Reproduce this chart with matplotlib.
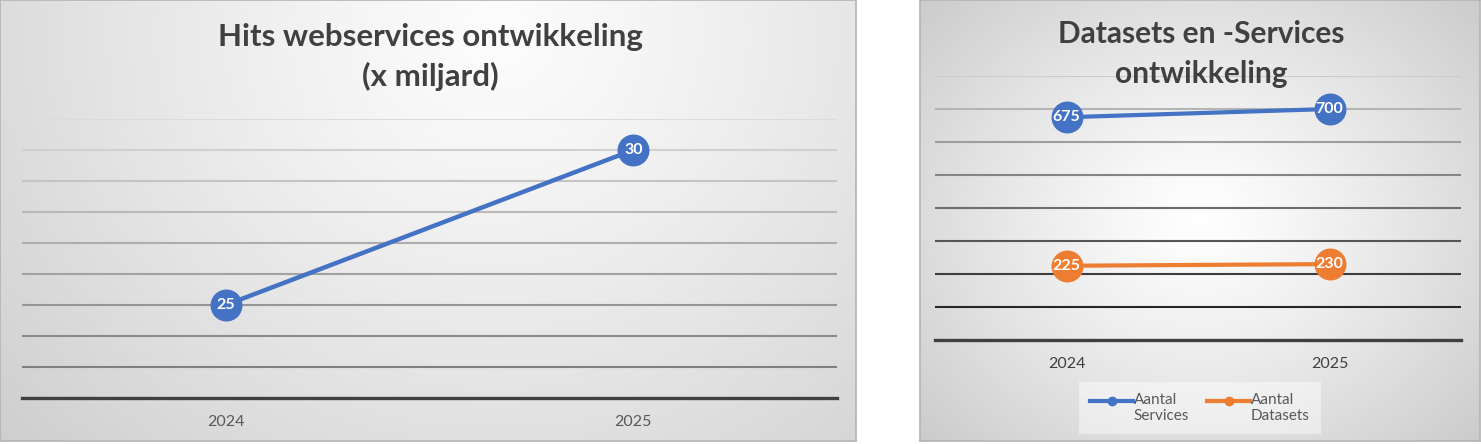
import numpy as np
import matplotlib.pyplot as plt
from matplotlib.lines import Line2D
from matplotlib.legend_handler import HandlerLine2D

# data
jaren = ['2024', '2025']
hits = [25, 30]                 # x miljard
aantal_services = [675, 700]
aantal_datasets = [225, 230]

BLUE = '#4472C4'
ORANGE = '#ED7D31'
TXT = '#404040'

plt.rcParams['font.family'] = ['Lato', 'DejaVu Sans']

W, H = 1481, 444
fig = plt.figure(figsize=(W / 100, H / 100), dpi=100)


def px_rect(x0, y0, x1, y1):
    # pixel box (top-left origin) -> figure fraction rect
    return [x0 / W, 1 - y1 / H, (x1 - x0) / W, (y1 - y0) / H]


def gradient_panel(rect, cx, cy, rx, ry, light, dark):
    bg = fig.add_axes(rect, zorder=0)
    n = 300
    xx, yy = np.meshgrid(np.linspace(0, 1, n), np.linspace(0, 1, n))
    r = np.sqrt(((xx - cx) / rx) ** 2 + ((yy - cy) / ry) ** 2)
    g = light + (dark - light) * np.clip(r, 0, 1) ** 1.2
    bg.imshow(np.dstack([g, g, g]), extent=(0, 1, 0, 1), origin='upper', aspect='auto')
    bg.set_xlim(0, 1)
    bg.set_ylim(0, 1)
    bg.set_xticks([])
    bg.set_yticks([])
    for s in bg.spines.values():
        s.set_color('#b4b4b4')
        s.set_linewidth(1.2)


gradient_panel(px_rect(0, 0, 856, 441), 0.58, 0.08, 0.85, 1.5, 0.99, 0.79)
gradient_panel(px_rect(920, 0, 1480, 441), 0.50, 0.50, 0.78, 0.85, 1.0, 0.76)


def style_axes(ax, ymin, ymax, step, grid_top, grid_bottom, tick_color):
    ax.set_facecolor('none')
    ax.set_xlim(-0.5, 1.5)
    ax.set_ylim(ymin, ymax)
    levels = np.arange(ymin + step, ymax + step / 2, step)
    greys = np.linspace(grid_bottom, grid_top, len(levels))
    for lv, gv in zip(levels, greys):
        ax.axhline(lv, color=(gv, gv, gv), lw=1.5, zorder=1)
    ax.axhline(ymin, color='#404040', lw=2.4, zorder=2, clip_on=False)
    for s in ax.spines.values():
        s.set_visible(False)
    ax.set_yticks([])
    ax.set_xticks(range(len(jaren)))
    ax.set_xticklabels(jaren, fontsize=11.5, color=tick_color)
    ax.tick_params(axis='x', length=0, pad=12)


def plot_series(ax, values, color, lw):
    ax.plot(range(len(values)), values, color=color, lw=lw, marker='o',
            markersize=22, zorder=3)
    for i, v in enumerate(values):
        ax.text(i, v, str(v), color='white', fontsize=11.5, fontweight='bold',
                ha='center', va='center', zorder=4)


# left chart
ax1 = fig.add_axes(px_rect(22, 119, 837, 398), zorder=1)
style_axes(ax1, 22, 31, 1, 0.86, 0.50, '#595959')
plot_series(ax1, hits, BLUE, 3.2)
fig.text(430 / W, 1 - 57 / H, 'Hits webservices ontwikkeling\n(x miljard)',
         ha='center', va='center', fontsize=22.5, fontweight='bold', color=TXT,
         linespacing=1.42, zorder=2)

# right chart
ax2 = fig.add_axes(px_rect(935, 76, 1461, 340), zorder=1)
style_axes(ax2, 0, 800, 100, 0.80, 0.15, '#404040')
plot_series(ax2, aantal_services, BLUE, 3.0)
plot_series(ax2, aantal_datasets, ORANGE, 3.0)
fig.text(1201 / W, 1 - 54 / H, 'Datasets en -Services\nontwikkeling',
         ha='center', va='center', fontsize=21.5, fontweight='bold', color=TXT,
         linespacing=1.5, zorder=2)


class TopLineHandler(HandlerLine2D):
    # put the legend line at the height of the first text line
    def create_artists(self, legend, orig_handle, xdescent, ydescent,
                       width, height, fontsize, trans):
        return super().create_artists(legend, orig_handle, xdescent,
                                      ydescent - 0.95 * fontsize, width,
                                      height, fontsize, trans)


handles = [Line2D([0], [0], color=BLUE, lw=3, marker='o', markersize=6),
           Line2D([0], [0], color=ORANGE, lw=3, marker='o', markersize=6)]
leg = fig.legend(handles, ['Aantal\nServices', 'Aantal\nDatasets'],
                 loc='center', bbox_to_anchor=(1200 / W, 1 - 408 / H),
                 ncol=2, frameon=True, fontsize=11, handlelength=2.8,
                 handletextpad=0.05, columnspacing=1.2, borderpad=0.4,
                 handler_map={Line2D: TopLineHandler()})
leg.get_frame().set_facecolor('white')
leg.get_frame().set_alpha(0.45)
leg.get_frame().set_edgecolor('none')
leg.get_frame().set_boxstyle('square')
for t in leg.get_texts():
    t.set_color('#595959')

fig.savefig('out.png', dpi=100)
